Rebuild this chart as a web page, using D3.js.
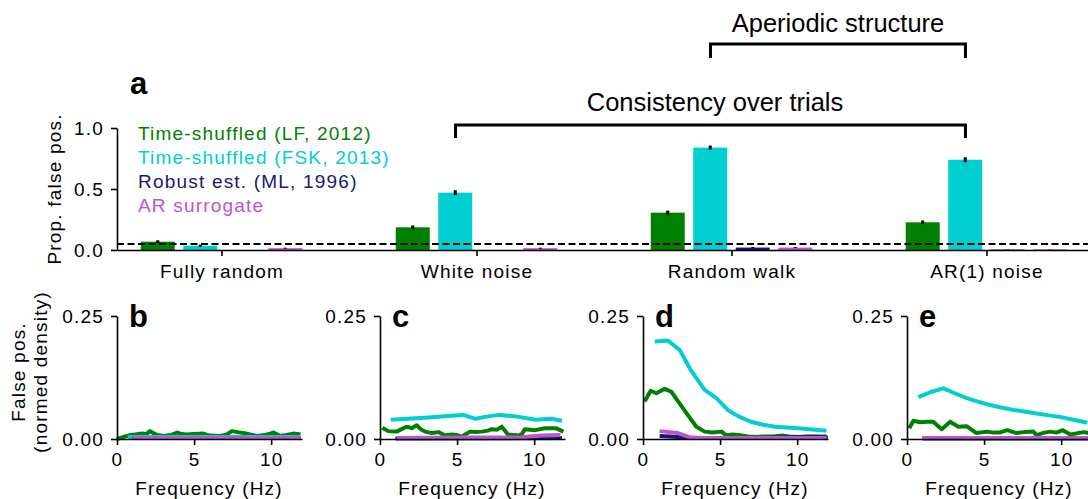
<!DOCTYPE html>
<html>
<head>
<meta charset="utf-8">
<script src="https://cdn.jsdelivr.net/npm/d3@7"></script>
<style>
  body { margin: 0; background: #fff; }
  svg { display: block; font-family: "Liberation Sans", Arial, sans-serif; }
  .tick text { font-size: 19px; letter-spacing: 1.2px; fill: #000; }
  .lbl { font-size: 19px; letter-spacing: 1.2px; }
</style>
</head>
<body>
<script>
// ---- data ----
var groups = ["Fully random", "White noise", "Random walk", "AR(1) noise"];
var seriesNames = ["Time-shuffled (LF, 2012)", "Time-shuffled (FSK, 2013)", "Robust est. (ML, 1996)", "AR surrogate"];
var seriesColors = ["#008000", "#00CED1", "#191970", "#BA55D3"];

var propLF  = [0.068, 0.186, 0.306, 0.227];
var propFSK = [0.035, 0.470, 0.839, 0.740];
var propML  = [0.000, 0.000, 0.020, 0.004];
var propAR  = [0.015, 0.015, 0.020, 0.005];
var errLF  = [0.012, 0.015, 0.017, 0.015];
var errFSK = [0.010, 0.020, 0.017, 0.020];
var errML  = [0.000, 0.000, 0.004, 0.002];
var errAR  = [0.004, 0.004, 0.004, 0.002];
var alphaLevel = 0.05;

var topTicks = [0, 0.5, 1.0];
var densTicks = [0, 0.25];
var freqTicks = [0, 5, 10];

// spectra of false positives, [frequency (Hz), normed density]
var bLF = [[0,0],[0.4,0.004],[0.84,0.008],[1.2,0.009],[1.6,0.011],[1.9,0.01],[2.14,0.016],[2.6,0.008],[3.0,0.006],[3.5,0.008],[3.9,0.013],[4.2,0.01],[4.5,0.009],[5.0,0.01],[5.6,0.011],[6.0,0.007],[6.7,0.006],[7.1,0.009],[7.45,0.016],[8.0,0.013],[8.4,0.011],[9.1,0.006],[9.6,0.008],[10.15,0.013],[10.6,0.006],[11.0,0.008],[11.45,0.011],[11.9,0.009]];
var bFSK = [[0.7,0.004],[2,0.004],[4,0.004],[6,0.004],[8,0.004],[10,0.004],[11.9,0.004]];
var bML = [[1,0.002],[11.9,0.002]];
var bAR = [[1,0.002],[4,0.002],[8,0.002],[11.9,0.002]];

var cLF = [[0.15,0.023],[0.54,0.016],[1.08,0.015],[1.4,0.02],[1.73,0.025],[2.06,0.022],[2.38,0.028],[2.65,0.02],[2.92,0.015],[3.35,0.012],[3.8,0.014],[4.2,0.007],[4.65,0.009],[5.0,0.008],[5.3,0.005],[5.85,0.015],[6.2,0.014],[6.6,0.015],[7.0,0.017],[7.25,0.02],[7.6,0.019],[7.9,0.025],[8.3,0.009],[8.98,0.007],[9.2,0.01],[9.4,0.02],[10.06,0.018],[10.7,0.022],[11.4,0.022],[11.9,0.015]];
var cFSK = [[0.7,0.039],[1.8,0.041],[2.9,0.043],[4.2,0.046],[5.4,0.049],[6.2,0.041],[7.0,0.046],[7.7,0.049],[8.8,0.046],[10.1,0.039],[11.1,0.041],[11.8,0.037]];
var cML = [[1,0.001],[11.8,0.002]];
var cAR = [[1.08,0.002],[5,0.003],[9,0.003],[10.5,0.007],[11.7,0.008]];

var dLF = [[0.1,0.076],[0.5,0.098],[0.87,0.093],[1.4,0.102],[1.84,0.096],[2.38,0.072],[2.9,0.049],[3.46,0.025],[4.0,0.015],[4.5,0.013],[5.1,0.015],[5.4,0.007],[5.8,0.009],[6.2,0.008],[6.8,0.005],[7.3,0.004],[7.9,0.005],[8.5,0.005],[9.0,0.007],[9.5,0.005],[10.1,0.004],[10.6,0.005],[11.1,0.005],[11.6,0.004],[12,0.003]];
var dFSK = [[0.76,0.198],[1.62,0.2],[2.38,0.181],[3.1,0.14],[4.0,0.1],[4.76,0.083],[5.5,0.059],[6.2,0.046],[7.0,0.035],[7.8,0.029],[8.55,0.025],[10.06,0.022],[11.9,0.017]];
var dML = [[1.08,0.006],[2.3,0.004],[3.0,0.002],[6,0.002],[9,0.003],[11.9,0.005]];
var dAR = [[1.08,0.016],[2.27,0.012],[3.1,0.003],[4,0.002],[8,0.002],[11.9,0.002]];

var eLF = [[0.15,0.022],[0.41,0.037],[0.85,0.034],[1.28,0.035],[1.7,0.035],[2.25,0.02],[2.8,0.035],[3.33,0.025],[3.87,0.026],[4.5,0.012],[5.2,0.015],[5.6,0.013],[6.0,0.013],[6.5,0.018],[7.1,0.012],[7.6,0.014],[8.2,0.015],[8.4,0.008],[8.9,0.013],[9.3,0.015],[9.7,0.013],[10.1,0.018],[10.6,0.009],[11.1,0.012],[11.5,0.014],[11.8,0.012]];
var eFSK = [[0.74,0.085],[1.5,0.095],[2.36,0.103],[3.1,0.093],[3.87,0.083],[4.6,0.076],[5.4,0.069],[6.1,0.064],[6.9,0.059],[7.6,0.056],[8.4,0.052],[9.2,0.048],[9.9,0.045],[10.8,0.039],[11.7,0.033]];
var eML = [[1,0.001],[11.9,0.001]];
var eAR = [[1,0.002],[6,0.002],[11.9,0.002]];

var panels = [
  { letter: "b", lines: [bLF, bFSK, bML, bAR] },
  { letter: "c", lines: [cLF, cFSK, cML, cAR] },
  { letter: "d", lines: [dLF, dFSK, dML, dAR] },
  { letter: "e", lines: [eLF, eFSK, eML, eAR] }
];

// ---- layout ----
var width = 1088, height = 499;
var svg = d3.select("body").append("svg")
    .attr("width", width)
    .attr("height", height);

// ---- panel a ----
var x0 = 117;
var y = d3.scaleLinear().domain([0, 1]).range([250, 128]);
var x = d3.scalePoint().domain(groups).range([x0, 1091]).padding(0.41);
var xSub = d3.scaleBand().domain(seriesNames).range([-80.75, 80.75]).paddingInner(0.2);

var values = [propLF, propFSK, propML, propAR];
var errors = [errLF, errFSK, errML, errAR];

var a = svg.append("g");

values.forEach(function (vals, s) {
    a.selectAll(".bar" + s)
        .data(vals)
        .enter().append("rect")
        .attr("x", function (d, i) { return x(groups[i]) + xSub(seriesNames[s]); })
        .attr("y", function (d) { return y(d); })
        .attr("width", xSub.bandwidth())
        .attr("height", function (d) { return y(0) - y(d); })
        .attr("fill", seriesColors[s]);
});

values.forEach(function (vals, s) {
    a.selectAll(".err" + s)
        .data(vals)
        .enter().append("line")
        .attr("x1", function (d, i) { return x(groups[i]) + xSub(seriesNames[s]) + xSub.bandwidth() / 2; })
        .attr("x2", function (d, i) { return x(groups[i]) + xSub(seriesNames[s]) + xSub.bandwidth() / 2; })
        .attr("y1", function (d, i) { return y(d - errors[s][i]); })
        .attr("y2", function (d, i) { return y(d + errors[s][i]); })
        .attr("stroke", "#000")
        .attr("stroke-width", 3)
        .style("display", function (d, i) { return errors[s][i] > 0 ? null : "none"; });
});

a.append("line")
    .attr("x1", x0).attr("x2", width)
    .attr("y1", y(alphaLevel)).attr("y2", y(alphaLevel))
    .attr("stroke", "#000")
    .attr("stroke-width", 2)
    .attr("stroke-dasharray", "7,3.5");

var yAxisA = a.append("g")
    .attr("transform", "translate(" + x0 + ",0)")
    .call(d3.axisLeft(y).tickValues(topTicks).tickFormat(d3.format(".1f")).tickSize(6).tickSizeOuter(0).tickPadding(7));

var xAxisA = a.append("g")
    .attr("transform", "translate(0," + y(0) + ")")
    .call(d3.axisBottom(x).tickSize(6).tickSizeOuter(0).tickPadding(9));

[yAxisA, xAxisA].forEach(function (g) {
    g.selectAll("path, line").attr("stroke", "#000").attr("stroke-width", 1.6);
});

a.append("text")
    .attr("class", "lbl")
    .attr("transform", "translate(61,189) rotate(-90)")
    .attr("text-anchor", "middle")
    .text("Prop. false pos.");

a.append("text")
    .attr("x", 130).attr("y", 94)
    .style("font-size", "31px").style("font-weight", "bold")
    .text("a");

// legend
a.selectAll(".leg")
    .data(seriesNames)
    .enter().append("text")
    .attr("class", "lbl")
    .attr("x", 138)
    .attr("y", function (d, i) { return 139.5 + i * 24.2; })
    .attr("fill", function (d, i) { return seriesColors[i]; })
    .text(function (d) { return d; });

// brackets
function bracket(x1, x2, yTop, yEnd, label, ty) {
    a.append("path")
        .attr("d", "M" + x1 + "," + yEnd + "V" + yTop + "H" + x2 + "V" + yEnd)
        .attr("fill", "none")
        .attr("stroke", "#000")
        .attr("stroke-width", 3);
    a.append("text")
        .attr("x", ty[0]).attr("y", ty[1])
        .attr("text-anchor", "middle")
        .style("font-size", "25.5px")
        .text(label);
}
bracket(x(groups[1]) - 21, x(groups[3]) - 21, 125, 138, "Consistency over trials", [715, 111]);
bracket(x(groups[2]) - 21, x(groups[3]) - 21, 44, 58, "Aperiodic structure", [838, 32]);

// ---- panels b-e ----
var panelX = [117, 380, 643, 907];
var yd = d3.scaleLinear().domain([0, 0.25]).range([439, 316]);

panels.forEach(function (p, k) {
    var g = svg.append("g");
    var xf = d3.scaleLinear().domain([0, 12]).range([panelX[k], panelX[k] + 185]);
    var line = d3.line()
        .x(function (d) { return xf(d[0]); })
        .y(function (d) { return yd(d[1]); });

    p.lines.forEach(function (pts, s) {
        g.append("path")
            .datum(pts)
            .attr("d", line)
            .attr("fill", "none")
            .attr("stroke", seriesColors[s])
            .attr("stroke-width", 4)
            .attr("stroke-linejoin", "round");
    });

    var ya = g.append("g")
        .attr("transform", "translate(" + panelX[k] + ",0)")
        .call(d3.axisLeft(yd).tickValues(densTicks).tickFormat(d3.format(".2f")).tickSize(6).tickSizeOuter(0).tickPadding(7));
    var xa = g.append("g")
        .attr("transform", "translate(0," + yd(0) + ")")
        .call(d3.axisBottom(xf).tickValues(freqTicks).tickSize(6).tickSizeOuter(0).tickPadding(8));
    [ya, xa].forEach(function (ax) {
        ax.selectAll("path, line").attr("stroke", "#000").attr("stroke-width", 1.6);
    });

    g.append("text")
        .attr("class", "lbl")
        .attr("x", panelX[k] + 92).attr("y", 495)
        .attr("text-anchor", "middle")
        .text("Frequency (Hz)");

    g.append("text")
        .attr("x", panelX[k] + 12).attr("y", 327)
        .style("font-size", "31px").style("font-weight", "bold")
        .text(p.letter);
});

svg.append("text")
    .attr("class", "lbl")
    .attr("transform", "translate(25,372) rotate(-90)")
    .attr("text-anchor", "middle")
    .text("False pos.");
svg.append("text")
    .attr("class", "lbl")
    .attr("transform", "translate(47,372) rotate(-90)")
    .attr("text-anchor", "middle")
    .text("(normed density)");
</script>
</body>
</html>
